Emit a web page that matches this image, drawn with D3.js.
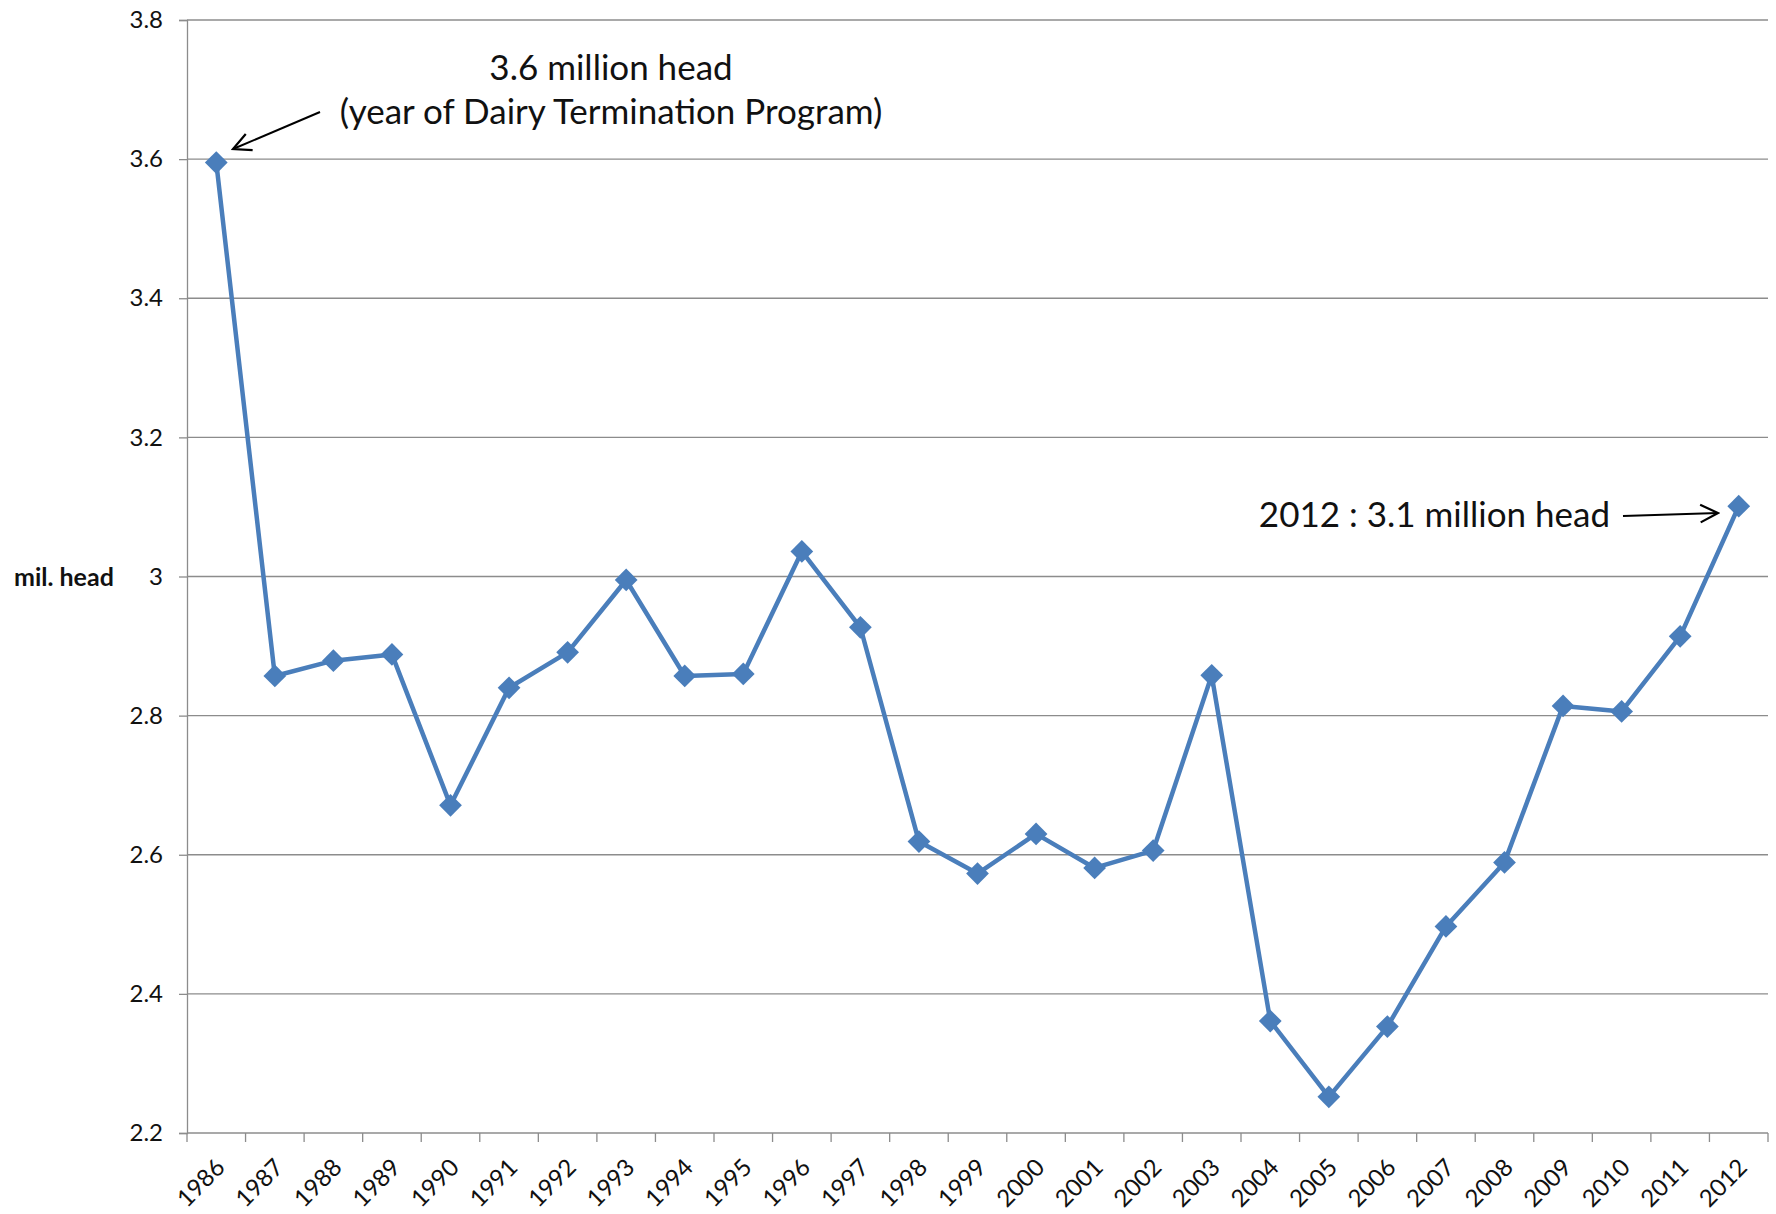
<!DOCTYPE html>
<html lang="en">
<head>
<meta charset="utf-8">
<title>Dairy cattle, mil. head</title>
<script src="https://d3js.org/d3.v7.min.js"></script>
<style>
  body { margin: 0; background: #fff; }
  svg text { font-family: Lato, "Open Sans", sans-serif; fill: #111; }
</style>
</head>
<body>
<div id="chart"></div>
<script>
// data
var years = ["1986","1987","1988","1989","1990","1991","1992","1993","1994","1995",
             "1996","1997","1998","1999","2000","2001","2002","2003","2004","2005",
             "2006","2007","2008","2009","2010","2011","2012"];
var heads = [3.595, 2.857, 2.879, 2.888, 2.671, 2.840, 2.891, 2.995, 2.857, 2.860,
             3.036, 2.927, 2.619, 2.573, 2.630, 2.581, 2.606, 2.858, 2.361, 2.252,
             2.353, 2.497, 2.589, 2.814, 2.806, 2.914, 3.101];
var yTicks = [2.2, 2.4, 2.6, 2.8, 3, 3.2, 3.4, 3.6, 3.8];

var W = 1776, H = 1214;
var margin = {top: 20, right: 8, bottom: 81, left: 187};
var width = W - margin.left - margin.right,
    height = H - margin.top - margin.bottom;

var svg = d3.select("#chart").append("svg")
    .attr("width", W).attr("height", H);

svg.append("defs").append("marker")
    .attr("id", "arr")
    .attr("viewBox", "0 0 20 20")
    .attr("refX", 18).attr("refY", 10)
    .attr("markerWidth", 22).attr("markerHeight", 22)
    .attr("markerUnits", "userSpaceOnUse")
    .attr("orient", "auto")
  .append("path")
    .attr("d", "M2,2 L18,10 L2,18")
    .attr("fill", "none").attr("stroke", "#000").attr("stroke-width", 2);

var g = svg.append("g")
    .attr("transform", "translate(" + margin.left + "," + margin.top + ")");

var x = d3.scaleBand().domain(years).range([0, width]);
var y = d3.scaleLinear().domain([2.2, 3.8]).range([height, 0]);

// gridlines
g.selectAll(".grid").data(yTicks.slice(1)).enter().append("line")
    .attr("x1", 0).attr("x2", width)
    .attr("y1", function(d) { return y(d); })
    .attr("y2", function(d) { return y(d); })
    .attr("stroke", "#8c8c8c").attr("stroke-width", 1.3);

// y axis
var yAxis = g.append("g")
    .call(d3.axisLeft(y).tickValues(yTicks).tickSize(8).tickPadding(16)
      .tickFormat(function(d) { return d === 3 ? "3" : d3.format(".1f")(d); }));
yAxis.attr("font-size", null);
yAxis.select(".domain").attr("stroke", "#8c8c8c").attr("stroke-width", 1.3);
yAxis.selectAll(".tick line").attr("stroke", "#8c8c8c").attr("stroke-width", 1.3);
yAxis.selectAll(".tick text").style("font-size", "24px").attr("fill", "#111");

// x axis, ticks between categories
var xAxis = g.append("g").attr("transform", "translate(0," + height + ")");
xAxis.append("line").attr("x1", 0).attr("x2", width)
    .attr("stroke", "#8c8c8c").attr("stroke-width", 1.3);
xAxis.selectAll(".xt").data(years.concat(["end"])).enter().append("line")
    .attr("x1", function(d, i) { return i * x.step(); })
    .attr("x2", function(d, i) { return i * x.step(); })
    .attr("y1", 0).attr("y2", 9)
    .attr("stroke", "#8c8c8c").attr("stroke-width", 1.3);
xAxis.selectAll(".xl").data(years).enter().append("text")
    .attr("text-anchor", "end")
    .attr("transform", function(d) {
      return "translate(" + (x(d) + x.bandwidth() / 2 + 10) + ",36) rotate(-45)";
    })
    .style("font-size", "24px")
    .text(function(d) { return d; });

// line + diamonds
var line = d3.line()
    .x(function(d, i) { return x(years[i]) + x.bandwidth() / 2; })
    .y(function(d) { return y(d); });

g.append("path").datum(heads)
    .attr("d", line)
    .attr("fill", "none")
    .attr("stroke", "#4a7ebb")
    .attr("stroke-width", 4.5)
    .attr("stroke-linejoin", "round");

g.selectAll(".pt").data(heads).enter().append("path")
    .attr("d", d3.symbol().type(d3.symbolDiamond2).size(330))
    .attr("transform", function(d, i) {
      return "translate(" + (x(years[i]) + x.bandwidth() / 2) + "," + y(d) + ")";
    })
    .attr("fill", "#4a7ebb");

// axis title
svg.append("text")
    .attr("x", 14).attr("y", 586)
    .style("font-size", "25px").style("font-weight", "bold")
    .text("mil. head");

// annotations
svg.append("text").attr("x", 611).attr("y", 80)
    .attr("text-anchor", "middle").style("font-size", "35px")
    .text("3.6 million head");
svg.append("text").attr("x", 611).attr("y", 124)
    .attr("text-anchor", "middle").style("font-size", "35px")
    .text("(year of Dairy Termination Program)");
svg.append("line")
    .attr("x1", 320).attr("y1", 112).attr("x2", 233).attr("y2", 149)
    .attr("stroke", "#000").attr("stroke-width", 2)
    .attr("marker-end", "url(#arr)");

svg.append("text").attr("x", 1610).attr("y", 527)
    .attr("text-anchor", "end").style("font-size", "35px")
    .text("2012 : 3.1 million head");
svg.append("line")
    .attr("x1", 1623).attr("y1", 516).attr("x2", 1718).attr("y2", 513)
    .attr("stroke", "#000").attr("stroke-width", 2)
    .attr("marker-end", "url(#arr)");
</script>
</body>
</html>
